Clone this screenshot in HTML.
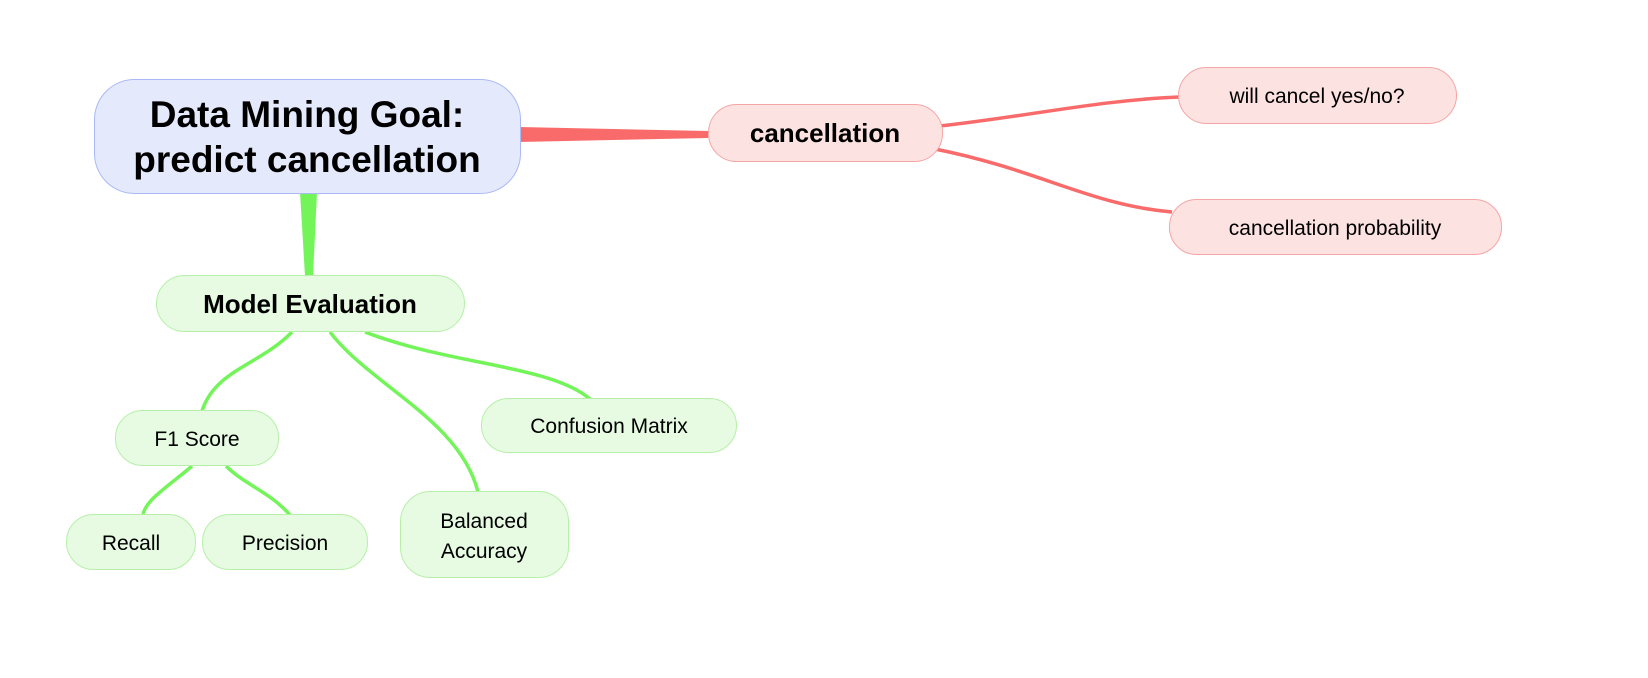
<!DOCTYPE html>
<html><head><meta charset="utf-8"><style>
html,body{margin:0;padding:0;background:#fff;}
svg{display:block;}
text{font-family:"Liberation Sans",Arial,sans-serif;fill:#000;}
</style></head><body>
<svg width="1648" height="678" viewBox="0 0 1648 678" xmlns="http://www.w3.org/2000/svg">
<!-- connectors -->
<polygon points="519,127 708,131 708,138 519,142" fill="#f96b6b"/>
<path d="M940,126 C1030,116 1100,100 1180,97" fill="none" stroke="#f96b6b" stroke-width="3.5"/>
<path d="M935,149 C1040,170 1090,205 1172,212" fill="none" stroke="#f96b6b" stroke-width="3.5"/>
<polygon points="300,192 317,192 313,276 305,276" fill="#73f55a"/>
<g fill="none" stroke="#73f55a" stroke-width="3.5">
<path d="M292,332 C260,365 215,370 202,411"/>
<path d="M330,332 C370,385 460,420 478,492"/>
<path d="M365,332 C450,365 550,365 590,399"/>
<path d="M192,466 C170,485 145,500 143,515"/>
<path d="M226,466 C245,485 270,492 290,515"/>
</g>
<!-- nodes -->
<rect x="94.5" y="79.5" width="426" height="114" rx="40" fill="#e4e9fc" stroke="#a9b9f5"/>
<text x="307" y="127" font-size="37" font-weight="bold" text-anchor="middle">Data Mining Goal:</text>
<text x="307" y="172" font-size="37" font-weight="bold" text-anchor="middle">predict cancellation</text>

<rect x="708.5" y="104.5" width="234" height="57" rx="28" fill="#fde2e2" stroke="#f5a5a5"/>
<text x="825" y="142" font-size="26" font-weight="bold" text-anchor="middle">cancellation</text>
<rect x="1178.5" y="67.5" width="278" height="56" rx="28" fill="#fde2e2" stroke="#f5a5a5"/>
<text x="1317" y="103" font-size="21" text-anchor="middle">will cancel yes/no?</text>
<rect x="1169.5" y="199.5" width="332" height="55" rx="27" fill="#fde2e2" stroke="#f5a5a5"/>
<text x="1335" y="235" font-size="21" text-anchor="middle">cancellation probability</text>

<g fill="#e6fbe2" stroke="#b6f0a8">
<rect x="156.5" y="275.5" width="308" height="56" rx="28"/>
<rect x="115.5" y="410.5" width="163" height="55" rx="27"/>
<rect x="481.5" y="398.5" width="255" height="54" rx="27"/>
<rect x="400.5" y="491.5" width="168" height="86" rx="30"/>
<rect x="66.5" y="514.5" width="129" height="55" rx="27"/>
<rect x="202.5" y="514.5" width="165" height="55" rx="27"/>
</g>
<text x="310" y="313" font-size="26" font-weight="bold" text-anchor="middle">Model Evaluation</text>
<text x="197" y="446" font-size="21" text-anchor="middle">F1 Score</text>
<text x="609" y="433" font-size="21" text-anchor="middle">Confusion Matrix</text>
<text x="484" y="528" font-size="21" text-anchor="middle">Balanced</text>
<text x="484" y="558" font-size="21" text-anchor="middle">Accuracy</text>
<text x="131" y="550" font-size="21" text-anchor="middle">Recall</text>
<text x="285" y="550" font-size="21" text-anchor="middle">Precision</text>
</svg>
</body></html>
